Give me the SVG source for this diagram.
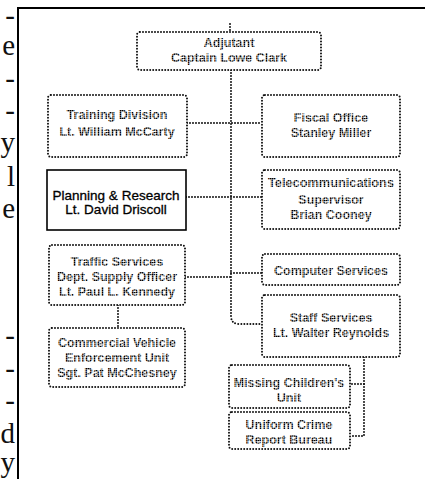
<svg xmlns="http://www.w3.org/2000/svg" width="425" height="479" viewBox="0 0 425 479">
  <defs>
    <!-- halftone dot screen used for the printed labels -->
    <pattern id="halftone" width="2" height="2" patternUnits="userSpaceOnUse">
      <rect x="0" y="0" width="1.6" height="1.6" fill="#000"/>
    </pattern>
  </defs>
  <style>
    .bg { fill: #ffffff; }
    .frame { fill: none; stroke: #000; stroke-width: 2; }
    .margin { font-family: "Liberation Serif", "DejaVu Serif", serif; font-size: 29px; fill: #111; text-anchor: end; }
    .box { fill: #fff; stroke: #111; stroke-width: 2; stroke-dasharray: 0 3; stroke-linecap: round; }
    .solid { fill: #fff; stroke: #000; stroke-width: 1.6; }
    .link { fill: none; stroke: #111; stroke-width: 2; stroke-dasharray: 0 3; stroke-linecap: round; }
    .lbl { font-family: "Liberation Sans", Arial, sans-serif; font-size: 12.5px; font-weight: bold; fill: url(#halftone); text-anchor: middle; }
    .lbl-solid { font-family: "Liberation Sans", Arial, sans-serif; font-size: 13.5px; fill: #000; text-anchor: middle; stroke: #000; stroke-width: 0.3; }
  </style>

  <rect class="bg" x="0" y="0" width="425" height="479"/>

  <!-- column of body text clipped at the page edge -->
  <g id="margin-text">
    <text class="margin" x="15" y="25">-</text>
    <text class="margin" x="15" y="55">e</text>
    <text class="margin" x="15" y="88">-</text>
    <text class="margin" x="15" y="120">-</text>
    <text class="margin" x="15" y="152">y</text>
    <text class="margin" x="15" y="186">l</text>
    <text class="margin" x="15" y="218">e</text>
    <text class="margin" x="15" y="345">-</text>
    <text class="margin" x="15" y="378">-</text>
    <text class="margin" x="15" y="410">-</text>
    <text class="margin" x="15" y="443">d</text>
    <text class="margin" x="15" y="472">y</text>
  </g>

  <!-- figure frame -->
  <path class="frame" d="M18,479 V8 H425"/>

  <!-- connectors -->
  <g id="connectors">
    <path class="link" d="M230,24 V32"/>
    <path class="link" d="M231,70 V316 Q231,324 239,324 H262"/>
    <path class="link" d="M187,123 H262"/>
    <path class="link" d="M186,197 H262"/>
    <path class="link" d="M185,277 H231"/>
    <path class="link" d="M231,273 H262"/>
    <path class="link" d="M118,305 V328"/>
    <path class="link" d="M364,357 V436 H350"/>
    <path class="link" d="M364,384 H350"/>
  </g>

  <g id="adjutant">
    <rect class="box" x="137" y="32" width="184" height="38" rx="3"/>
    <text class="lbl" x="229" y="47">Adjutant</text>
    <text class="lbl" x="229" y="62">Captain Lowe Clark</text>
  </g>

  <g id="training">
    <rect class="box" x="48" y="95" width="139" height="62" rx="3"/>
    <text class="lbl" x="117" y="119">Training Division</text>
    <text class="lbl" x="117" y="136">Lt. William McCarty</text>
  </g>

  <g id="planning">
    <rect class="solid" x="47" y="170" width="139" height="60"/>
    <text class="lbl-solid" x="116" y="200">Planning &amp; Research</text>
    <text class="lbl-solid" x="116" y="214">Lt. David Driscoll</text>
  </g>

  <g id="traffic">
    <rect class="box" x="49" y="245" width="136" height="60" rx="3"/>
    <text class="lbl" x="117" y="266">Traffic Services</text>
    <text class="lbl" x="117" y="281">Dept. Supply Officer</text>
    <text class="lbl" x="117" y="296">Lt. Paul L. Kennedy</text>
  </g>

  <g id="commercial">
    <rect class="box" x="49" y="328" width="136" height="59" rx="3"/>
    <text class="lbl" x="117" y="347">Commercial Vehicle</text>
    <text class="lbl" x="117" y="362">Enforcement Unit</text>
    <text class="lbl" x="117" y="377">Sgt. Pat McChesney</text>
  </g>

  <g id="fiscal">
    <rect class="box" x="262" y="95" width="138" height="62" rx="3"/>
    <text class="lbl" x="331" y="122">Fiscal Office</text>
    <text class="lbl" x="331" y="137">Stanley Miller</text>
  </g>

  <g id="telecom">
    <rect class="box" x="262" y="170" width="138" height="59" rx="3"/>
    <text class="lbl" x="331" y="187" textLength="126" lengthAdjust="spacingAndGlyphs">Telecommunications</text>
    <text class="lbl" x="331" y="204">Supervisor</text>
    <text class="lbl" x="331" y="219">Brian Cooney</text>
  </g>

  <g id="computer">
    <rect class="box" x="262" y="254" width="138" height="31" rx="3"/>
    <text class="lbl" x="331" y="275">Computer Services</text>
  </g>

  <g id="staff">
    <rect class="box" x="262" y="295" width="138" height="62" rx="3"/>
    <text class="lbl" x="331" y="322">Staff Services</text>
    <text class="lbl" x="331" y="337">Lt. Walter Reynolds</text>
  </g>

  <g id="missing">
    <rect class="box" x="229" y="365" width="121" height="43" rx="3"/>
    <text class="lbl" x="289" y="387">Missing Children's</text>
    <text class="lbl" x="289" y="402">Unit</text>
  </g>

  <g id="uniform">
    <rect class="box" x="229" y="412" width="121" height="37" rx="3"/>
    <text class="lbl" x="289" y="429">Uniform Crime</text>
    <text class="lbl" x="289" y="444">Report Bureau</text>
  </g>
</svg>
